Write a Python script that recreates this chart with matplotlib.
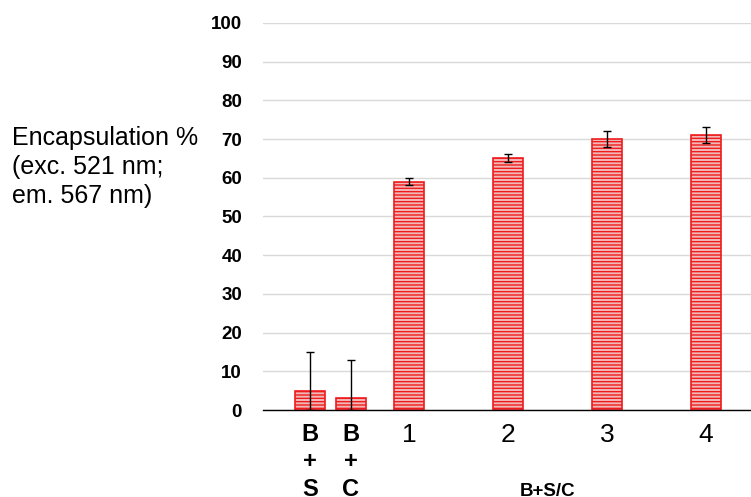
import matplotlib.pyplot as plt
import matplotlib as mpl

plt.rcParams["font.family"] = ["Liberation Sans", "DejaVu Sans"]
mpl.rcParams["hatch.linewidth"] = 1.0

# data
categories = ["B\n+\nS", "B\n+\nC", "1", "2", "3", "4"]
values = [5, 3, 59, 65, 70, 71]
err_up = [10, 10, 1, 1, 2, 2]
err_down = [5, 3, 1, 1, 2, 2]
yticks = [0, 10, 20, 30, 40, 50, 60, 70, 80, 90, 100]

# layout: bar centres on the x axis
xpos = [-1.0, -0.586, 0, 1, 2, 3]

fig = plt.figure(figsize=(7.51, 4.97), dpi=100)
ax = fig.add_axes([0.350, 0.175, 0.650, 0.779])

bars = ax.bar(xpos, values, width=0.31, color="#f2b8b8", edgecolor="#ee1c1c",
              linewidth=1.2, hatch="-----", zorder=2)
ax.errorbar(xpos, values, yerr=[err_down, err_up], fmt="none", ecolor="black",
            elinewidth=1.0, capsize=3, capthick=1.0, zorder=3)

ax.set_ylim(0, 100)
ax.set_xlim(-1.475, 3.455)
ax.set_yticks(yticks)
ax.set_yticklabels([str(t) for t in yticks], fontsize=13.5, fontweight="bold")
ax.yaxis.grid(True, color="#d9d9d9", linewidth=1.0, zorder=0)
ax.set_axisbelow(True)
ax.tick_params(axis="y", length=0, pad=15)
ax.tick_params(axis="x", length=0, pad=9)
ax.set_xticks(xpos)
ax.set_xticklabels(categories)
for i, lbl in enumerate(ax.get_xticklabels()):
    if i < 2:
        lbl.set_fontweight("bold")
        lbl.set_fontsize(17)
        lbl.set_linespacing(1.27)
    else:
        lbl.set_fontsize(19)

for s in ["top", "right", "left"]:
    ax.spines[s].set_visible(False)
ax.spines["bottom"].set_color("black")
ax.spines["bottom"].set_linewidth(1.0)

fig.text(12 / 751, 1 - 126 / 497, "Encapsulation %\n(exc. 521 nm;\nem. 567 nm)",
         fontsize=18, va="top", ha="left", linespacing=1.27)
fig.text(548 / 751, 1 - 491 / 497, "B+S/C", fontsize=13.5, fontweight="bold",
         ha="center", va="center")

fig.savefig("out.png", dpi=100)
